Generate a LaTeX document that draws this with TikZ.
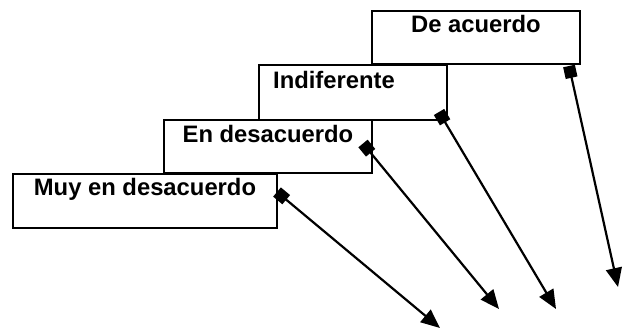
\documentclass[tikz,border=0pt]{standalone}
\usepackage{fontspec}
\setmainfont{Liberation Sans}
\usetikzlibrary{arrows.meta,calc,positioning}

\begin{document}
\begin{tikzpicture}[x=1pt,y=-1pt,
    box/.style={draw, line width=1.7pt, anchor=north west, inner sep=0pt, outer sep=0pt},
    lbl/.style={anchor=base, inner sep=0pt, font=\fontsize{23.8}{28}\selectfont\bfseries},
    arr/.style={line width=2.2pt, {Square[length=12pt,width=12pt]}-{Triangle[length=19pt,width=16pt]}}]
\useasboundingbox (0,0) rectangle (623,329);

% the four boxes, stepping down to the left
\node[box, minimum width=208pt, minimum height=53pt] (deac) at (372,11) {};
\node[box, minimum width=188pt, minimum height=55pt] (indif) at (259,65) {};
\node[box, minimum width=208pt, minimum height=53pt] (endes) at (164,120) {};
\node[box, minimum width=264pt, minimum height=54pt] (muy) at (13,174) {};

\node[lbl] (deac-t) at ($(deac.north)+(0,22)$) {De acuerdo};
\node[lbl] (indif-t) at ($(indif.north)+(-19,23)$) {Indiferente};
\node[lbl] (endes-t) at ($(endes.north)+(0,22)$) {En desacuerdo};
\node[lbl] (muy-t) at ($(muy.north)+(0,21)$) {Muy en desacuerdo};

% start and end points of the arrows
\coordinate (deac-s) at ($(deac.south east)+(-11,2)$);
\coordinate (indif-s) at ($(indif.south east)+(-8,-8)$);
\coordinate (endes-s) at ($(endes.east)+(-9,-3)$);
\coordinate (muy-s) at ($(muy.east)+(0,-9)$);
\coordinate (deac-e) at (618,287);
\coordinate (indif-e) at (556,309);
\coordinate (endes-e) at (499,309);
\coordinate (muy-e) at (440,328);

\foreach \n in {deac,indif,endes,muy}
    \draw[arr] (\n-s) -- (\n-e);

\end{tikzpicture}
\end{document}
